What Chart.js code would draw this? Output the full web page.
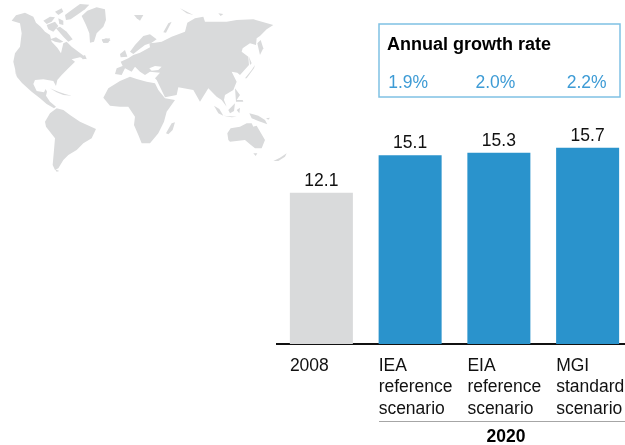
<!DOCTYPE html>
<html>
<head>
<meta charset="utf-8">
<script src="https://cdn.jsdelivr.net/npm/chart.js@4"></script>
<style>
html, body { margin: 0; padding: 0; width: 625px; height: 445px; overflow: hidden; background: #fff; }
#map { position: absolute; left: 0; top: 0; }
#mainChart { position: absolute; left: 0; top: 0; }
</style>
</head>
<body>
<!-- world map backdrop, traced by hand from 3x crops -->
<svg id="map" width="290" height="200" viewBox="0 0 290 200">
  <g fill="#d9dadb" transform="scale(0.3333)">
    <path d="M35 62L48 46L75 38L100 50L108 68L122 80L135 95L150 105L155 125L172 143L183 160L190 130L200 125L215 140L235 155L248 165L260 178L240 172L215 178L225 185L205 205L185 225L172 240L168 258L160 243L130 238L105 240L100 252L110 273L132 277L137 267L141 275L138 287L150 305L168 320L162 325L140 312L120 295L95 275L66 249L51 231L40 185L45 160L60 140L65 100L60 70Z"/>
    <path d="M130 62L150 50L165 52L155 65L140 72Z"/>
    <path d="M165 35L185 25L190 35L175 45Z"/>
    <path d="M195 45L215 30L240 12L268 14L255 28L235 42L212 58L198 60Z"/>
    <path d="M140 75L165 65L175 78L160 95L145 88Z"/>
    <path d="M175 55L190 62L190 75L178 72Z"/>
    <path d="M168 85L180 80L200 95L218 118L205 125L190 110Z"/>
    <path d="M150 118L168 112L190 125L180 128L165 125Z"/>
    <path d="M245 48L262 32L290 22L315 28L318 60L310 80L290 100L282 125L270 128L268 100L258 75Z"/>
    <path d="M306 120L318 115L332 120L322 128L310 128Z"/>
    <path d="M243 170L255 165L260 176L248 178Z"/>
    <path d="M46 205L50 225L52 232L47 222Z"/>
  </g>
  <g fill="#d9dadb" transform="translate(30,75) scale(0.3333)">
    <path d="M60 40L85 50L105 57L125 62L100 60L80 52Z"/>
    <path d="M80 100L100 105L120 120L150 140L198 162L185 190L160 205L140 225L115 240L100 255L85 280L75 285L68 270L72 225L75 190L48 155L45 140L60 115Z"/>
    <path d="M75 283L88 288L80 290Z"/>
    <path d="M220 68L235 40L270 18L300 5L320 12L350 20L375 25L385 45L405 70L435 75L410 110L402 140L385 175L360 205L335 205L325 180L312 150L315 125L295 95L270 95L240 92Z"/>
    <path d="M408 175L425 145L435 142L428 165L415 178Z"/>
  </g>
  <g fill="#d9dadb" transform="translate(100,0) scale(0.3333)">
    <path d="M45 222L50 205L68 198L62 185L85 175L100 165L120 158L150 142L148 130L165 128L185 125L215 110L255 95L262 68L285 55L310 50L315 65L380 65L410 60L460 58L520 75L500 88L480 108L470 115L468 135L450 130L428 145L425 155L445 170L447 195L420 225L412 218L395 215L410 245L400 270L375 285L372 300L380 320L365 300L350 290L325 265L300 305L280 270L235 262L230 285L195 292L170 240L165 235L180 218L150 215L135 225L120 215L105 200L95 215L75 205L65 225Z"/>
    <path d="M90 155L105 135L130 108L150 103L170 118L155 128L135 135L115 150L100 162Z"/>
    <path d="M60 162L75 150L82 170L62 172Z"/>
    <path d="M190 97L205 70L215 65L198 98Z"/>
    <path d="M102 45L130 45L120 62L110 55Z"/>
    <path d="M240 25L255 32L280 45L260 40Z"/>
    <path d="M355 40L370 42L362 48Z"/>
    <path d="M472 130L482 120L490 145L480 165Z"/>
    <path d="M435 235L455 210L465 195L462 205L440 235Z"/>
    <path d="M447 170L455 190L450 195Z"/>
    <path d="M5 118L30 115L25 128L10 128Z"/>
    <path d="M148 205L165 198L185 200L175 210L155 212Z" fill="#fff"/>
  </g>
  <g fill="#d9dadb" transform="translate(190,85) scale(0.3333)">
    <path d="M72 62L88 72L100 92L85 85Z"/>
    <path d="M115 75L135 55L132 78L120 85Z"/>
    <path d="M100 92L140 95L125 97Z"/>
    <path d="M140 75L150 68L148 85Z"/>
    <path d="M135 10L150 30L140 45L158 45L160 50L138 50Z"/>
    <path d="M178 85L205 92L225 105L232 118L205 108L185 100Z"/>
    <path d="M228 100L240 98L235 104Z"/>
    <path d="M112 145L122 130L150 125L170 115L185 115L190 125L200 122L225 165L215 190L195 190L180 178L165 165L120 170L115 165Z"/>
    <path d="M190 205L202 205L197 213Z"/>
    <path d="M250 228L270 218L290 205L285 215L265 228Z"/>
  </g>
</svg>
<canvas id="mainChart" width="632" height="445"></canvas>
<script>
const categories = [['2008'], ['IEA', 'reference', 'scenario'], ['EIA', 'reference', 'scenario'], ['MGI', 'standard', 'scenario']];
const values = [12.1, 15.1, 15.3, 15.7];
const barColors = ['#d9dadb', '#2a93cc', '#2a93cc', '#2a93cc'];
const growthRates = ['1.9%', '2.0%', '2.2%'];
const growthTitle = 'Annual growth rate';
const groupLabel = '2020';

const FONT = '"Liberation Sans", Arial, sans-serif';
const rateShift = [-2, -3.5, -1];

// value labels, growth box and the 2020 bracket
const extrasPlugin = {
    id: 'extras',
    afterDraw(chart) {
        const c = chart.ctx;
        const bars = chart.getDatasetMeta(0).data;
        c.save();
        c.font = '17.5px ' + FONT;
        c.fillStyle = '#111';
        c.textAlign = 'center';
        c.textBaseline = 'alphabetic';
        bars.forEach((b, i) => c.fillText(values[i].toFixed(1), b.x, b.y - 7));

        c.strokeStyle = '#7fc1e4';
        c.lineWidth = 1.5;
        c.strokeRect(379, 24, 241, 73);
        c.textAlign = 'left';
        c.font = 'bold 18px ' + FONT;
        c.fillStyle = '#000';
        c.fillText(growthTitle, 387, 50);
        c.textAlign = 'center';
        c.font = '17.5px ' + FONT;
        c.fillStyle = '#3d9bd5';
        growthRates.forEach((r, i) => c.fillText(r, bars[i + 1].x + rateShift[i], 87.5));

        c.strokeStyle = '#a6a6a6';
        c.lineWidth = 1;
        c.beginPath();
        c.moveTo(379, 421.5);
        c.lineTo(625, 421.5);
        c.stroke();
        c.font = 'bold 17.5px ' + FONT;
        c.fillStyle = '#000';
        c.fillText(groupLabel, 506, 441.5);
        c.restore();
    }
};

new Chart(document.getElementById('mainChart'), {
    type: 'bar',
    data: {
        labels: categories,
        datasets: [{
            data: values,
            backgroundColor: barColors,
            barPercentage: 0.71,
            categoryPercentage: 1
        }]
    },
    options: {
        responsive: false,
        animation: false,
        layout: { padding: { left: 277, top: 94 } },
        plugins: { legend: { display: false }, tooltip: { enabled: false } },
        scales: {
            x: {
                grid: { display: false, drawTicks: false },
                border: { display: true, color: '#111', width: 2 },
                afterFit(scale) {
                    scale.height = 101;
                    scale.paddingLeft = 0;
                    scale.paddingRight = 0;
                },
                ticks: {
                    font: { family: FONT, size: 17.5, lineHeight: 1.23 },
                    color: '#111',
                    align: 'start',
                    labelOffset: -31.5,
                    padding: 11,
                    maxRotation: 0,
                    autoSkip: false
                }
            },
            y: { display: false, min: 0, max: 20 }
        }
    },
    plugins: [extrasPlugin]
});
</script>
</body>
</html>
